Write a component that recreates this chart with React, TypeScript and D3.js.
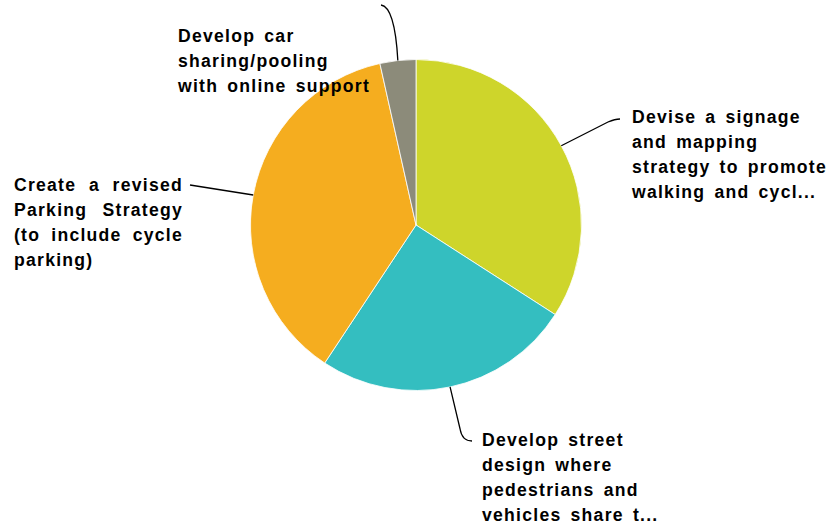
import * as d3 from "d3";
import React, { useEffect, useRef } from "react";

// slice shares (%), clockwise from 12 o'clock
const categories = [
  "Devise a signage and mapping strategy to promote walking and cycling",
  "Develop street design where pedestrians and vehicles share the space",
  "Create a revised Parking Strategy (to include cycle parking)",
  "Develop car sharing/pooling with online support",
];
const values = [34.1, 25.2, 37.2, 3.5];
const colors = ["#CED52B", "#34BEC0", "#F5AD1F", "#8C8B7A"];

// label lines as shown on the chart (truncated like the original)
const labelLines = [
  ["Devise a signage", "and mapping", "strategy to promote", "walking and cycl..."],
  ["Develop street", "design where", "pedestrians and", "vehicles share t..."],
  ["Create a revised", "Parking Strategy", "(to include cycle", "parking)"],
  ["Develop car", "sharing/pooling", "with online support"],
];

const W = 835;
const H = 529;
const cx = 416;
const cy = 225;
const R = 165.5;
const FONT = 17.6;
const LS = 1.25;
const WS = 3;
const LH = 25;

// label placement: top-left x, first baseline, leader end point, justify?
const labelPos = [
  { x: 632, y: 123, end: [620, 119], justify: false },
  { x: 482, y: 446, end: [472, 441], justify: false },
  { x: 14, y: 190.5, end: [190, 185], justify: true, width: 169 },
  { x: 178, y: 41.5, end: [381, 5], justify: false },
];

export default function App() {
  const ref = useRef<SVGSVGElement>(null);

  const pie = d3
    .pie<number>()
    .sort(null)
    .value((d) => d);
  const arcs = pie(values);
  const arc = d3.arc<d3.PieArcDatum<number>>().innerRadius(0).outerRadius(R);
  const edge = d3.arc<d3.PieArcDatum<number>>().innerRadius(R).outerRadius(R);

  useEffect(() => {
    document.body.style.margin = "0";
    // justify the left label like the original (last line left as is)
    const svg = d3.select(ref.current);
    svg.selectAll<SVGTextElement, unknown>("text.just").each(function () {
      const t = this;
      const target = +t.getAttribute("data-w")!;
      const words = (t.textContent || "").split(" ").length - 1;
      if (words < 1) return;
      t.setAttribute("word-spacing", "0");
      const len = t.getComputedTextLength();
      t.setAttribute("word-spacing", String((target - len) / words));
    });
  }, []);

  const leader = (i: number) => {
    const [sx, sy] = edge.centroid(arcs[i]);
    const x0 = cx + sx;
    const y0 = cy + sy;
    const [ex, ey] = labelPos[i].end;
    const p = d3.path();
    p.moveTo(x0, y0);
    if (i === 0) {
      p.lineTo(ex - 12, ey + 3);
      p.quadraticCurveTo(ex - 5, ey, ex, ey);
    } else if (i === 1) {
      p.lineTo(x0 + 10, ey - 12);
      p.quadraticCurveTo(x0 + 12, ey, ex, ey);
    } else if (i === 2) {
      p.lineTo(ex, ey);
    } else {
      p.quadraticCurveTo(x0 - 3, ey + 2, ex, ey);
    }
    return p.toString();
  };

  return (
    <svg ref={ref} width={W} height={H} style={{ display: "block" }}>
      <rect width={W} height={H} fill="#ffffff" />
      <g transform={`translate(${cx},${cy})`}>
        {arcs.map((a, i) => (
          <path
            key={categories[i]}
            d={arc(a) || ""}
            fill={colors[i]}
            stroke="#ffffff"
            strokeWidth={0.8}
          />
        ))}
      </g>
      {arcs.map((a, i) => (
        <path
          key={"l" + i}
          d={leader(i)}
          fill="none"
          stroke="#000000"
          strokeWidth={1.3}
        />
      ))}
      {labelLines.map((lines, i) =>
        lines.map((line, j) => {
          const pos = labelPos[i];
          const just = pos.justify && j < lines.length - 1;
          return (
            <text
              key={i + "-" + j}
              className={just ? "just" : undefined}
              data-w={pos.width}
              x={pos.x}
              y={pos.y + j * LH}
              fontFamily="Liberation Sans, Arial, sans-serif"
              fontWeight="bold"
              fontSize={FONT}
              letterSpacing={LS}
              wordSpacing={WS}
              fill="#000000"
            >
              {line}
            </text>
          );
        })
      )}
    </svg>
  );
}
